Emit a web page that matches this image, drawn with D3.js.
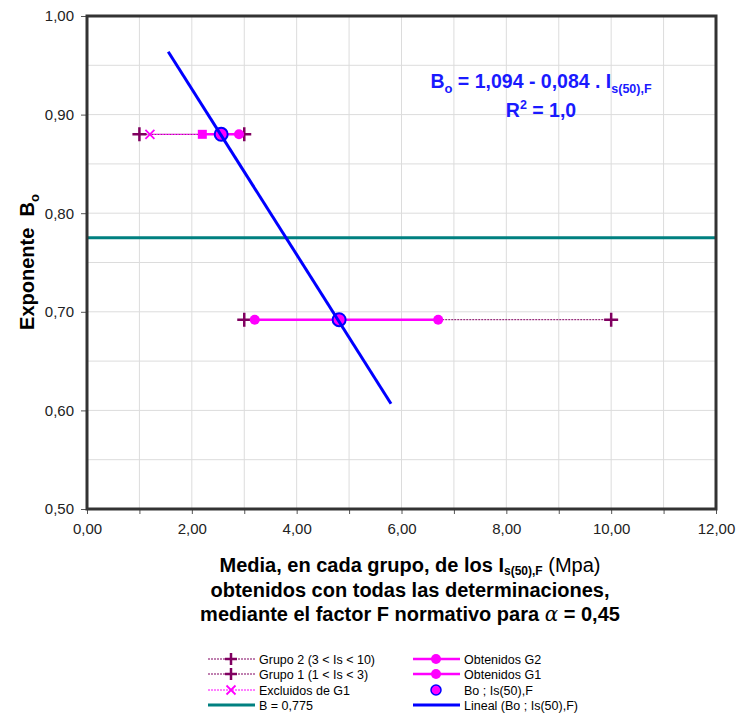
<!DOCTYPE html>
<html><head><meta charset="utf-8">
<script src="https://cdn.jsdelivr.net/npm/d3@7"></script>
<style>body{margin:0;background:#fff;}svg{display:block;font-family:"Liberation Sans",Arial,sans-serif;}</style>
</head><body><svg id="c" width="740" height="715"></svg>
<script>
// ---- data ----
const xTicks = [0,2,4,6,8,10,12];
const yTicks = [0.5,0.6,0.7,0.8,0.9,1.0];
const grupo2 = [[3.0,0.692],[10.0,0.692]];
const grupo1 = [[1.0,0.880],[3.0,0.880]];
const excluidosG1 = [[1.2,0.880],[2.2,0.880]];
const obtenidosG2 = [[3.2,0.692],[6.7,0.692]];
const obtenidosG1 = [[2.2,0.880],[2.9,0.880]];
const boPoints = [[2.56,0.880],[4.81,0.692]];
const bLine = 0.775;
const trendIntercept = 1.094, trendSlope = -0.084;
const trendRange = [1.55, 5.8];

const svg = d3.select("#c");
const L=87,R=716,T=16,B=509;
const x = d3.scaleLinear().domain([0,12]).range([L,R]);
const y = d3.scaleLinear().domain([0.5,1.0]).range([B,T]);

svg.append("rect").attr("width",740).attr("height",715).attr("fill","#fff");
const g = svg.append("g");
// grid
g.selectAll(".vg").data(d3.range(1,12,1)).enter().append("line")
 .attr("x1",d=>x(d)).attr("x2",d=>x(d)).attr("y1",T).attr("y2",B)
 .attr("stroke","#dcdcdc").attr("stroke-width",1);
g.selectAll(".hg").data(d3.range(0.55,1.0,0.05)).enter().append("line")
 .attr("y1",d=>y(d)).attr("y2",d=>y(d)).attr("x1",L).attr("x2",R)
 .attr("stroke","#dcdcdc").attr("stroke-width",1);

// axes
const fmt = d=>d3.format(".2f")(d).replace(".",",");
const xAxis = d3.axisBottom(x).tickValues(d3.range(0,13,1)).tickSize(5).tickFormat(d=>xTicks.includes(d)?fmt(d):"");
const xa = svg.append("g").attr("transform",`translate(0,${B})`).call(xAxis);
xa.select(".domain").remove();
xa.selectAll("text").attr("font-size",15).attr("fill","#222").attr("y",14).attr("dy","0.71em").attr("font-family","Liberation Sans, Arial");
xa.selectAll("line").attr("stroke","#555");
const yAxis = d3.axisLeft(y).tickValues(yTicks).tickSize(6).tickFormat(fmt);
const ya = svg.append("g").attr("transform",`translate(${L},0)`).call(yAxis);
ya.select(".domain").remove();
ya.selectAll("text").attr("font-size",15).attr("fill","#222").attr("x",-13).attr("font-family","Liberation Sans, Arial");
ya.selectAll("line").attr("stroke","#555");

// B line
g.append("line").attr("x1",L).attr("x2",R).attr("y1",y(bLine)).attr("y2",y(bLine))
 .attr("stroke","#008080").attr("stroke-width",3);

const line = d3.line().x(d=>x(d[0])).y(d=>y(d[1]));
const purple="#800060", magenta="#ff00ff", blue="#0000ff";
function dotted(data,color){
  g.append("path").attr("d",line(data)).attr("fill","none").attr("stroke",color).attr("stroke-width",1).attr("stroke-dasharray","2,1");
}
dotted(grupo2,purple); dotted(grupo1,purple); dotted(excluidosG1,magenta);
function solid(data){
  g.append("path").attr("d",line(data)).attr("fill","none").attr("stroke",magenta).attr("stroke-width",2.5);
}
solid(obtenidosG2); solid(obtenidosG1);
function plus(sel,cx,cy,s,col){
  sel.append("path").attr("d",`M${cx-s},${cy}H${cx+s}M${cx},${cy-s}V${cy+s}`).attr("stroke",col).attr("stroke-width",2.5).attr("fill","none");
}
function cross(sel,cx,cy,s,col){
  sel.append("path").attr("d",`M${cx-s},${cy-s}L${cx+s},${cy+s}M${cx-s},${cy+s}L${cx+s},${cy-s}`).attr("stroke",col).attr("stroke-width",1.8).attr("fill","none");
}
grupo2.concat(grupo1).forEach(d=>plus(g,x(d[0]),y(d[1]),7,purple));
cross(g,x(excluidosG1[0][0]),y(excluidosG1[0][1]),4.5,magenta);
obtenidosG2.forEach(d=>g.append("circle").attr("cx",x(d[0])).attr("cy",y(d[1])).attr("r",5).attr("fill",magenta));
g.append("rect").attr("x",x(obtenidosG1[0][0])-4.5).attr("y",y(obtenidosG1[0][1])-4.5).attr("width",9).attr("height",9).attr("fill",magenta);
g.append("circle").attr("cx",x(obtenidosG1[1][0])).attr("cy",y(obtenidosG1[1][1])).attr("r",5).attr("fill",magenta);
boPoints.forEach(d=>g.append("circle").attr("cx",x(d[0])).attr("cy",y(d[1])).attr("r",6.5).attr("fill",magenta).attr("stroke",blue).attr("stroke-width",2));
// trend
g.append("path").attr("d",line(trendRange.map(v=>[v,trendIntercept+trendSlope*v]))).attr("stroke",blue).attr("stroke-width",3).attr("fill","none");

// frame
svg.append("rect").attr("x",L).attr("y",T).attr("width",R-L).attr("height",B-T).attr("fill","none").attr("stroke","#333").attr("stroke-width",3);

// equation
const eq = svg.append("text").attr("x",541).attr("y",88).attr("text-anchor","middle").attr("fill","#1a1aff").attr("font-weight","bold").attr("font-size",19.5);
eq.append("tspan").text("B");
eq.append("tspan").text("o").attr("font-size",13).attr("dy",5);
eq.append("tspan").text(" = 1,094 - 0,084 . I").attr("dy",-5);
eq.append("tspan").text("s(50),F").attr("font-size",12.5).attr("dy",5);
const r2 = svg.append("text").attr("x",541).attr("y",117).attr("text-anchor","middle").attr("fill","#1a1aff").attr("font-weight","bold").attr("font-size",19.5);
r2.append("tspan").text("R");
r2.append("tspan").text("2").attr("font-size",12.5).attr("dy",-8);
r2.append("tspan").text(" = 1,0").attr("dy",8);

// y title
const yt = svg.append("text").attr("transform","translate(34,262) rotate(-90)").attr("text-anchor","middle").attr("font-weight","bold").attr("font-size",20).attr("fill","#000");
yt.append("tspan").text("Exponente\u00a0\u00a0B");
yt.append("tspan").text("o").attr("font-size",13).attr("dy",5);

// x title
const xt1 = svg.append("text").attr("x",410).attr("y",572).attr("text-anchor","middle").attr("font-weight","bold").attr("font-size",20);
xt1.append("tspan").text("Media, en cada grupo, de los I");
xt1.append("tspan").text("s(50),F").attr("font-size",12).attr("dy",3);
xt1.append("tspan").text("\u00a0(Mpa)").attr("font-weight","normal").attr("dy",-3);
svg.append("text").attr("x",410).attr("y",597).attr("text-anchor","middle").attr("font-weight","bold").attr("font-size",20).text("obtenidos con todas las determinaciones,");
const xt3 = svg.append("text").attr("x",410).attr("y",621).attr("text-anchor","middle").attr("font-weight","bold").attr("font-size",20);
xt3.append("tspan").text("mediante el factor F normativo para\u00a0");
xt3.append("tspan").text("α").attr("font-weight","normal").attr("font-style","italic").attr("font-family","DejaVu Serif");
xt3.append("tspan").text("\u00a0= 0,45");

// legend
const lg = svg.append("g").attr("font-size",12.5).attr("fill","#000");
const rows=[659,674,690,705];
function lgText(xx,yy,t){lg.append("text").attr("x",xx).attr("y",yy+4.5).text(t);}
// left col
[[0,"Grupo 2 (3 < Is < 10)",purple,"plus"],[1,"Grupo 1 (1 < Is < 3)",purple,"plus"],[2,"Excluidos de G1",magenta,"cross"]].forEach(([i,t,c,m])=>{
  const yy=rows[i];
  lg.append("line").attr("x1",208).attr("x2",255).attr("y1",yy).attr("y2",yy).attr("stroke",c).attr("stroke-width",1).attr("stroke-dasharray","2,1");
  if(m==="plus") plus(lg,231,yy,6,c); else cross(lg,231,yy,4.5,c);
  lgText(259,yy,t);
});
lg.append("line").attr("x1",208).attr("x2",255).attr("y1",rows[3]).attr("y2",rows[3]).attr("stroke","#008080").attr("stroke-width",3);
lgText(259,rows[3],"B = 0,775");
// right col
[[0,"Obtenidos G2"],[1,"Obtenidos G1"]].forEach(([i,t])=>{
  const yy=rows[i];
  lg.append("line").attr("x1",413).attr("x2",460).attr("y1",yy).attr("y2",yy).attr("stroke",magenta).attr("stroke-width",2.5);
  lg.append("circle").attr("cx",436).attr("cy",yy).attr("r",5).attr("fill",magenta);
  lgText(464,yy,t);
});
lg.append("circle").attr("cx",436).attr("cy",rows[2]).attr("r",5).attr("fill",magenta).attr("stroke",blue).attr("stroke-width",1.5);
lgText(464,rows[2],"Bo ; Is(50),F");
lg.append("line").attr("x1",413).attr("x2",460).attr("y1",rows[3]).attr("y2",rows[3]).attr("stroke",blue).attr("stroke-width",3);
lgText(464,rows[3],"Lineal (Bo ; Is(50),F)");
</script></body></html>
